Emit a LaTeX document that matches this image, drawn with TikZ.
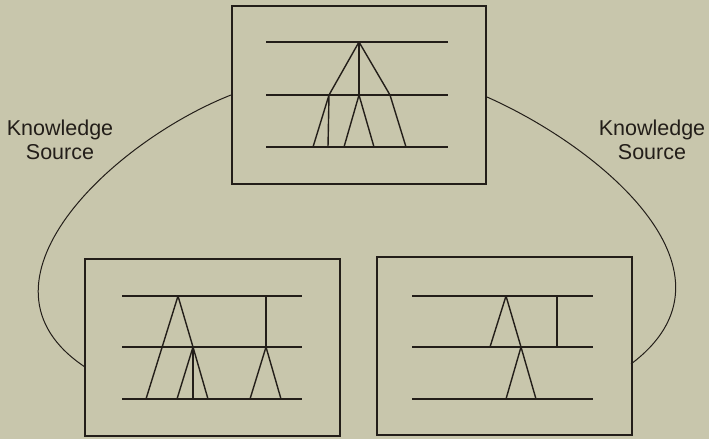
\documentclass[tikz,border=0pt]{standalone}
\usepackage{fontspec}
\setmainfont{Liberation Sans}
\definecolor{paper}{RGB}{200,198,172}
\definecolor{ink}{RGB}{35,30,25}
\begin{document}
\begin{tikzpicture}[x=1pt,y=-1pt,
  panel/.style={draw=ink,line width=2pt,fill=none,inner sep=0pt,minimum width=#1},
  level/.style={draw=ink,line width=1.5pt},
  branch/.style={draw=ink,line width=1.4pt,line join=round},
  link/.style={draw=ink,line width=1pt},
  lbl/.style={text=ink,font=\fontsize{21.5}{24}\selectfont,align=center,inner sep=0pt}]
\fill[paper] (0,0) rectangle (709,439);
\useasboundingbox (0,0) rectangle (709,439);
% panels
\node[panel=254pt,minimum height=178pt] (top) at (359,95) {};
\node[panel=255pt,minimum height=177pt] (bl) at (212.5,347.5) {};
\node[panel=255pt,minimum height=178pt] (br) at (504.5,346) {};
% top tree
\draw[level] (266,42) -- (448,42);
\draw[level] (266,95) -- (448,95);
\draw[level] (266,147) -- (448,147);
\draw[branch] (329,95) -- (359,42) -- (390,95);
\draw[branch] (359,42) -- (359,95);
\draw[branch] (313,147) -- (329,95) -- (328,147);
\draw[branch] (344,147) -- (359,95) -- (374,147);
\draw[branch] (390,95) -- (406,147);
% bottom-left tree
\draw[level] (122,296) -- (302,296);
\draw[level] (122,347) -- (302,347);
\draw[level] (122,399) -- (302,399);
\draw[branch] (146,399) -- (178,296) -- (193,347);
\draw[branch] (177,399) -- (193,347) -- (208,399);
\draw[branch] (193,347) -- (193,399);
\draw[branch] (266,296) -- (266,347);
\draw[branch] (250,399) -- (266,347) -- (281,399);
% bottom-right tree
\draw[level] (412,296) -- (593,296);
\draw[level] (412,347) -- (593,347);
\draw[level] (412,399) -- (593,399);
\draw[branch] (490,347) -- (506,296) -- (521,347);
\draw[branch] (557,296) -- (557,347);
\draw[branch] (506,399) -- (521,347) -- (536,399);
% connectors
\coordinate (blin) at (85,367);
\coordinate (brin) at (631,364);
\draw[link] (top.west) .. controls (112,142) and (-40,284) .. (blin);
\draw[link] ([yshift=-2pt]top.east) .. controls (604,149) and (751,274) .. (brin);
% labels
\node[lbl] (kl) at (60,140) {Knowledge\\Source};
\node[lbl] (kr) at (652,140) {Knowledge\\Source};
\end{tikzpicture}
\end{document}
